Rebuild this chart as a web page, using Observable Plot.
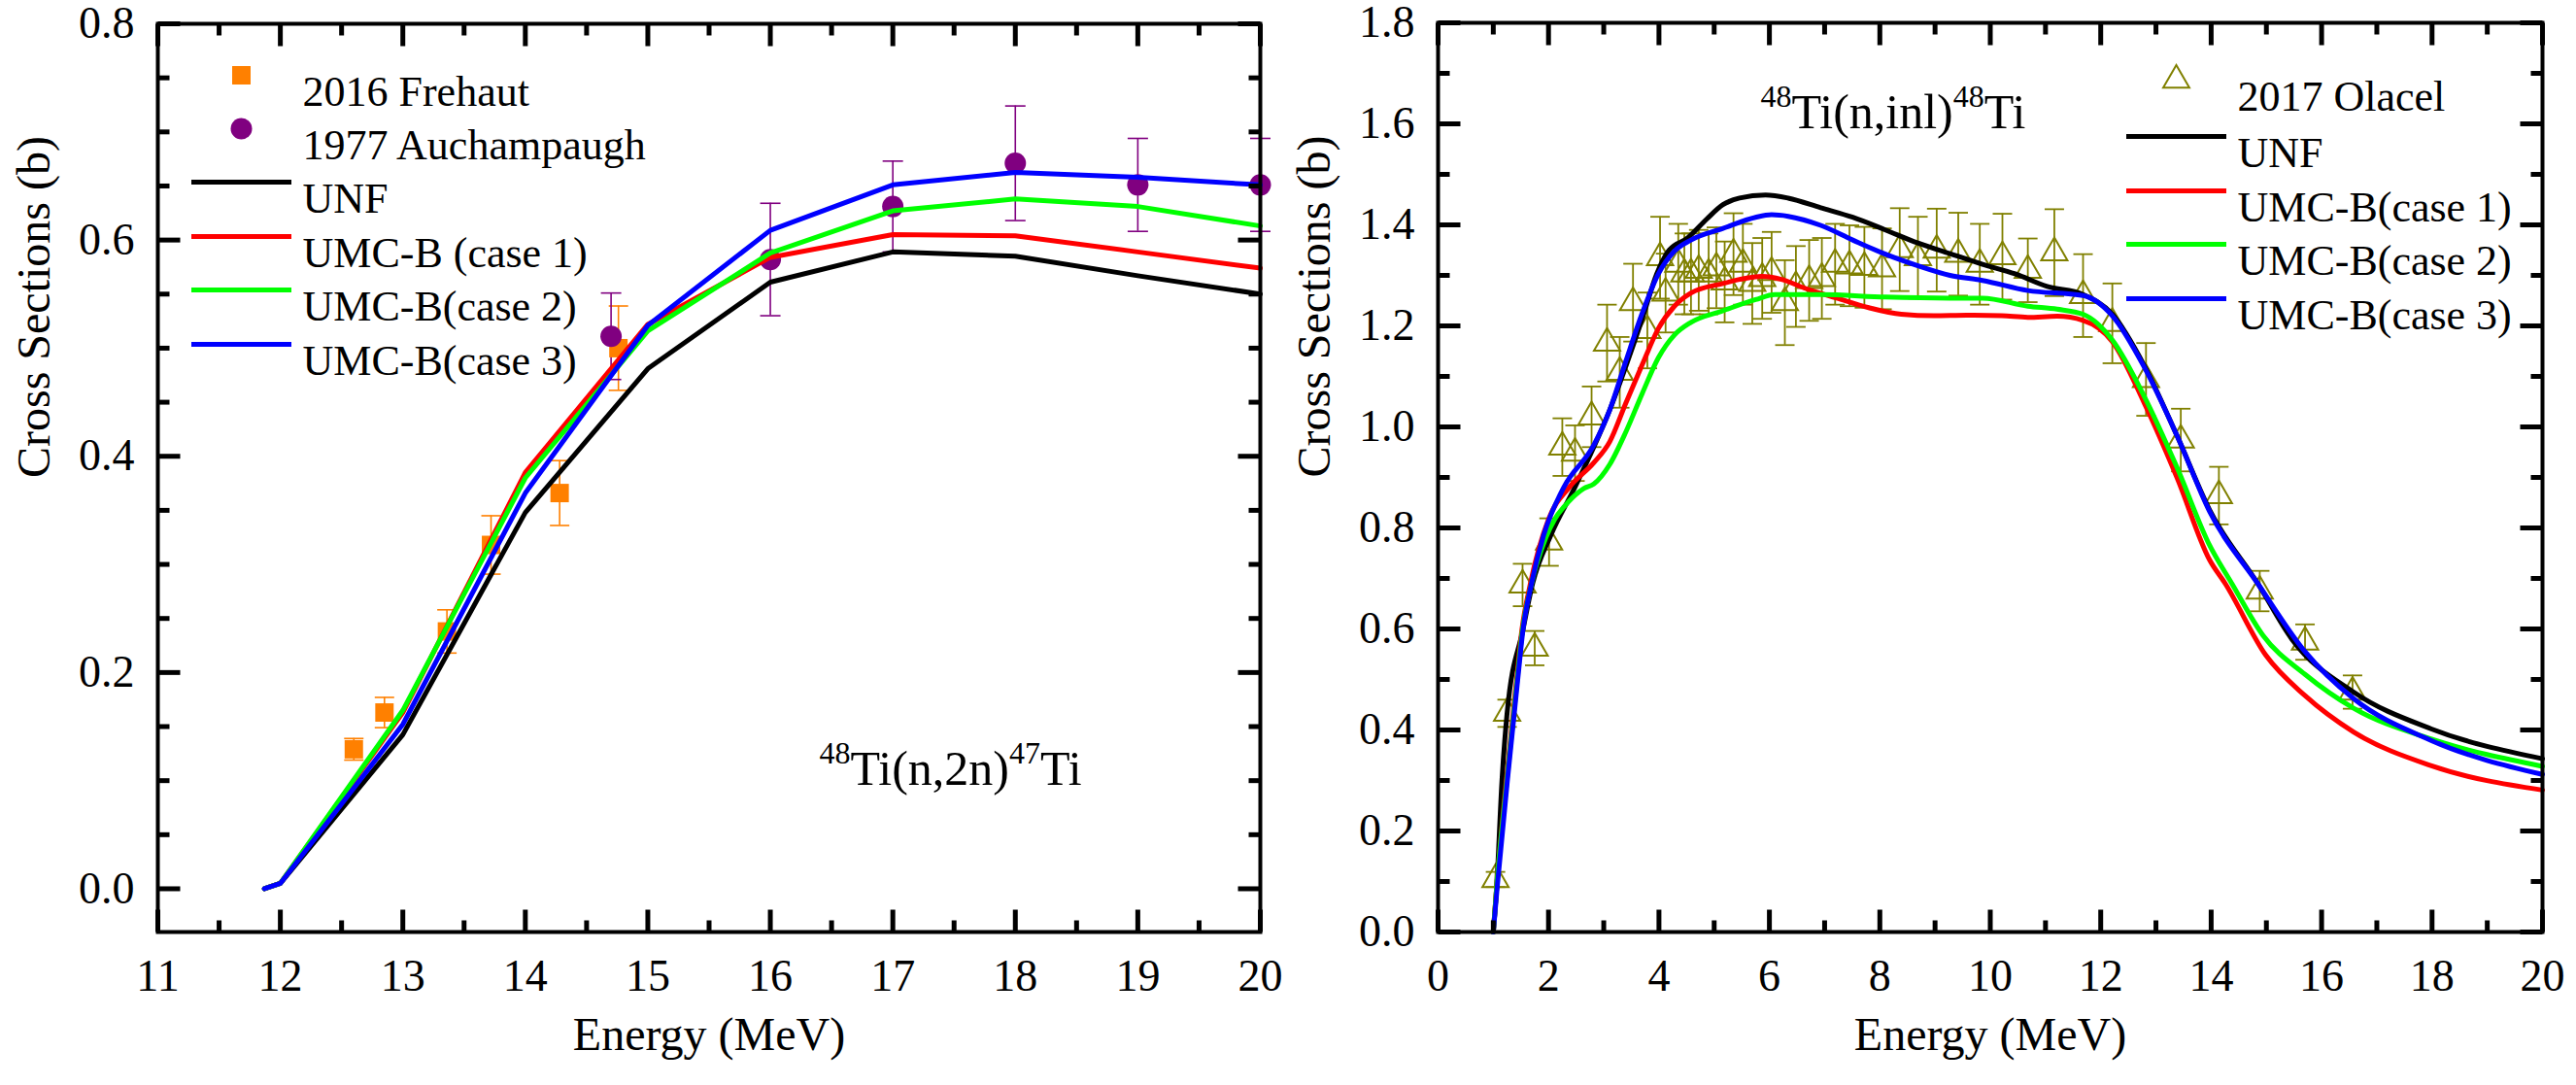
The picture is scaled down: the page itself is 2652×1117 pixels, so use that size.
<!DOCTYPE html>
<html>
<head>
<meta charset="utf-8">
<script src="https://cdn.jsdelivr.net/npm/d3@7"></script>
<script src="https://cdn.jsdelivr.net/npm/@observablehq/plot@0.6"></script>
<style>
html, body { margin: 0; padding: 0; background: #fff; }
#wrap { position: relative; width: 2652px; height: 1117px; overflow: hidden; background: #fff; }
#left { position: absolute; left: 0; top: 0; }
#right { position: absolute; left: 1330px; top: 0; }
</style>
</head>
<body>
<div id="wrap"><div id="left"></div><div id="right"></div></div>
<script>
// ---------- Left panel: 48Ti(n,2n)47Ti ----------
const n2nEnergy = [11.87, 12, 13, 14, 15, 16, 17, 18, 19, 20];
const n2nUNF    = [0, 0.005, 0.1425, 0.348, 0.481, 0.561, 0.589, 0.585, 0.567, 0.550];
const n2nCase1  = [0, 0.005, 0.163, 0.385, 0.522, 0.584, 0.605, 0.604, 0.589, 0.574];
const n2nCase2  = [0, 0.005, 0.165, 0.380, 0.516, 0.588, 0.627, 0.638, 0.631, 0.613];
const n2nCase3  = [0, 0.005, 0.152, 0.366, 0.521, 0.609, 0.651, 0.6625, 0.658, 0.651];

const frehautE   = [12.6, 12.85, 13.36, 13.72, 14.28, 14.76];
const frehautV   = [0.129, 0.163, 0.238, 0.318, 0.366, 0.500];
const frehautErr = [0.010, 0.014, 0.020, 0.027, 0.030, 0.039];

const auchE   = [14.7, 16, 17, 18, 19, 20];
const auchV   = [0.511, 0.582, 0.631, 0.671, 0.651, 0.651];
const auchErr = [0.040, 0.052, 0.042, 0.053, 0.043, 0.043];

const leftXMajor = [11, 12, 13, 14, 15, 16, 17, 18, 19, 20];
const leftXMinor = [11.5, 12.5, 13.5, 14.5, 15.5, 16.5, 17.5, 18.5, 19.5];
const leftYMajor = [0, 0.2, 0.4, 0.6, 0.8];
const leftYMinor = [0.05, 0.1, 0.15, 0.25, 0.3, 0.35, 0.45, 0.5, 0.55, 0.65, 0.7, 0.75];

// ---------- Right panel: 48Ti(n,inl)48Ti ----------
const inlUNF_E = [1.00, 1.06, 1.16, 1.25, 1.54, 1.71, 2.04, 2.48, 2.82, 3.11, 3.40, 3.70, 3.96, 4.17, 4.52, 4.87, 5.16, 5.46, 5.93, 6.34, 6.93, 7.51, 8.10, 8.69, 9.27, 9.86, 10.45, 11.03, 11.68, 12.21, 12.79, 13.38, 13.97, 14.85, 15.46, 16.58, 17.99, 20.0];
const inlUNF_V = [0, 0.088, 0.305, 0.433, 0.600, 0.689, 0.785, 0.881, 0.960, 1.034, 1.120, 1.215, 1.303, 1.348, 1.374, 1.412, 1.440, 1.453, 1.459, 1.453, 1.434, 1.415, 1.390, 1.364, 1.343, 1.322, 1.303, 1.278, 1.262, 1.223, 1.121, 0.983, 0.836, 0.689, 0.580, 0.475, 0.402, 0.343];

const inlCase1_E = [1.00, 1.06, 1.24, 1.42, 1.52, 1.67, 2.00, 2.38, 2.82, 3.11, 3.40, 3.70, 3.99, 4.28, 4.58, 5.16, 5.46, 5.87, 6.22, 6.63, 7.22, 7.80, 8.39, 8.98, 9.57, 10.21, 10.68, 11.21, 11.68, 12.21, 12.79, 13.38, 13.97, 14.26, 14.99, 15.70, 16.58, 17.99, 20.0];
const inlCase1_V = [0, 0.088, 0.305, 0.497, 0.600, 0.689, 0.817, 0.881, 0.929, 0.971, 1.047, 1.124, 1.195, 1.239, 1.265, 1.284, 1.292, 1.298, 1.292, 1.275, 1.255, 1.236, 1.223, 1.220, 1.221, 1.220, 1.217, 1.219, 1.211, 1.169, 1.047, 0.900, 0.737, 0.689, 0.548, 0.468, 0.396, 0.329, 0.281];

const inlCase2_E = [1.00, 1.06, 1.25, 1.43, 1.53, 1.69, 1.95, 2.11, 2.29, 2.64, 2.82, 3.11, 3.40, 3.70, 3.99, 4.28, 4.58, 5.16, 5.75, 6.10, 6.93, 8.10, 9.27, 9.86, 10.68, 11.21, 11.68, 12.21, 12.79, 13.38, 13.97, 14.38, 14.94, 15.70, 16.58, 17.99, 20.0];
const inlCase2_V = [0, 0.088, 0.305, 0.497, 0.600, 0.689, 0.780, 0.817, 0.843, 0.878, 0.887, 0.926, 0.990, 1.067, 1.137, 1.182, 1.207, 1.230, 1.252, 1.262, 1.262, 1.257, 1.255, 1.255, 1.239, 1.233, 1.223, 1.172, 1.060, 0.920, 0.766, 0.689, 0.587, 0.510, 0.443, 0.382, 0.328];

const inlCase3_E = [1.00, 1.07, 1.26, 1.44, 1.54, 1.69, 1.91, 2.28, 2.82, 3.11, 3.40, 3.70, 3.99, 4.28, 4.58, 5.16, 5.75, 6.04, 6.34, 6.93, 7.51, 8.10, 8.69, 9.27, 9.86, 10.68, 11.68, 12.21, 12.79, 13.38, 13.97, 14.85, 15.70, 16.58, 17.99, 20.0];
const inlCase3_V = [0, 0.088, 0.305, 0.497, 0.600, 0.689, 0.785, 0.881, 0.964, 1.034, 1.130, 1.226, 1.303, 1.348, 1.370, 1.393, 1.415, 1.420, 1.417, 1.399, 1.370, 1.342, 1.319, 1.300, 1.290, 1.270, 1.260, 1.220, 1.118, 0.983, 0.833, 0.689, 0.555, 0.462, 0.379, 0.312];

const olacelE = [1.04, 1.25, 1.53, 1.75, 2.01, 2.25, 2.48, 2.78, 3.06, 3.29, 3.53, 3.79, 4.02, 4.12, 4.35, 4.46, 4.58, 4.72, 4.90, 5.04, 5.19, 5.35, 5.52, 5.69, 5.87, 6.04, 6.28, 6.48, 6.72, 6.95, 7.19, 7.45, 7.72, 8.04, 8.36, 8.69, 9.03, 9.42, 9.81, 10.22, 10.68, 11.16, 11.68, 12.21, 12.82, 13.45, 14.14, 14.88, 15.70, 16.56];
const olacelV = [0.104, 0.433, 0.687, 0.562, 0.772, 0.960, 0.948, 1.020, 1.166, 1.108, 1.246, 1.191, 1.335, 1.265, 1.322, 1.303, 1.303, 1.310, 1.303, 1.315, 1.287, 1.342, 1.322, 1.284, 1.294, 1.306, 1.246, 1.278, 1.290, 1.294, 1.322, 1.319, 1.316, 1.313, 1.351, 1.335, 1.350, 1.342, 1.322, 1.337, 1.310, 1.345, 1.260, 1.205, 1.094, 0.974, 0.864, 0.675, 0.574, 0.475];
const olacelErr = [0.015, 0.027, 0.042, 0.034, 0.047, 0.057, 0.055, 0.060, 0.076, 0.070, 0.077, 0.075, 0.081, 0.078, 0.080, 0.080, 0.080, 0.080, 0.080, 0.080, 0.080, 0.081, 0.080, 0.080, 0.080, 0.080, 0.084, 0.080, 0.080, 0.080, 0.080, 0.080, 0.080, 0.080, 0.082, 0.081, 0.082, 0.082, 0.080, 0.085, 0.063, 0.086, 0.082, 0.079, 0.072, 0.062, 0.057, 0.040, 0.035, 0.033];

const rightXMajor = [0, 2, 4, 6, 8, 10, 12, 14, 16, 18, 20];
const rightXMinor = [1, 3, 5, 7, 9, 11, 13, 15, 17, 19];
const rightYMajor = [0, 0.2, 0.4, 0.6, 0.8, 1.0, 1.2, 1.4, 1.6, 1.8];
const rightYMinor = [0.1, 0.3, 0.5, 0.7, 0.9, 1.1, 1.3, 1.5, 1.7];

// ---------- Text ----------
const xTitle = "Energy (MeV)";
const yTitle = "Cross Sections (b)";
const leftLegend  = ["2016 Frehaut", "1977 Auchampaugh", "UNF", "UMC-B (case 1)", "UMC-B(case 2)", "UMC-B(case 3)"];
const rightLegend = ["2017 Olacel", "UNF", "UMC-B(case 1)", "UMC-B(case 2)", "UMC-B(case 3)"];
const leftAnnoParts  = [["48", true], ["Ti(n,2n)", false], ["47", true], ["Ti", false]];
const rightAnnoParts = [["48", true], ["Ti(n,inl)", false], ["48", true], ["Ti", false]];

// ---------- Styles ----------
const FONT = "'Liberation Serif', 'Times New Roman', Times, serif";
const C_UNF = "#000000", C_C1 = "#ff0000", C_C2 = "#00ff00", C_C3 = "#0000ff";
const C_FREH = "#ff8000", C_AUCH = "#800080", C_OLA = "#808000";
const LW = 5;

const rows = (E, V, ERR) => E.map((e, i) => ({e, v: V[i], err: ERR ? ERR[i] : 0}));
const hLine = (len) => ({draw(ctx) { ctx.moveTo(-len / 2, 0); ctx.lineTo(len / 2, 0); }});
const vStub = (len, dir) => ({draw(ctx) { ctx.moveTo(0, 0); ctx.lineTo(0, dir * len); }});
const hStub = (len, dir) => ({draw(ctx) { ctx.moveTo(0, 0); ctx.lineTo(dir * len, 0); }});

// frame, tick labels, inward tick stubs on all four sides, titles
function frameAxes(xDom, yDom, xMajor, xMinor, yMajor, yMinor, xFmt, yFmt) {
  const s = {stroke: "#000000", strokeWidth: 5, fill: "none", r: 1};
  const xTicks = (vals, len) => [
    Plot.dot(vals, {x: d => d, y: () => yDom[0], symbol: vStub(len, -1), ...s}),
    Plot.dot(vals, {x: d => d, y: () => yDom[1], symbol: vStub(len, 1), ...s})
  ];
  const yTicks = (vals, len) => [
    Plot.dot(vals, {y: d => d, x: () => xDom[0], symbol: hStub(len, 1), ...s}),
    Plot.dot(vals, {y: d => d, x: () => xDom[1], symbol: hStub(len, -1), ...s})
  ];
  return [
    Plot.frame({stroke: "black", strokeWidth: 4}),
    ...xTicks(xMajor, 23), ...xTicks(xMinor, 12),
    ...yTicks(yMajor, 23), ...yTicks(yMinor, 12),
    Plot.axisX(xMajor, {anchor: "bottom", tickSize: 0, tickPadding: 28, fontSize: 46, tickFormat: xFmt, label: null, fill: "black"}),
    Plot.axisY(yMajor, {anchor: "left", tickSize: 0, tickPadding: 24, fontSize: 46, tickFormat: yFmt, label: null, fill: "black"}),
    Plot.text([xTitle], {frameAnchor: "bottom", dy: 121, fontSize: 48, fill: "black"}),
    Plot.text([yTitle], {frameAnchor: "left", dx: -127, rotate: -90, fontSize: 48, fill: "black"})
  ];
}

function legendEntry(symbolSpec, label, dxSym, dxText, dy) {
  return [
    Plot.dot([0], {frameAnchor: "top-left", dx: dxSym, dy, ...symbolSpec}),
    Plot.text([label], {frameAnchor: "top-left", dx: dxText, dy, textAnchor: "start", fontSize: 44, fill: "black"})
  ];
}

function errorMarks(data, color, capLen, width) {
  return [
    Plot.ruleX(data, {x: "e", y1: d => d.v - d.err, y2: d => d.v + d.err, stroke: color, strokeWidth: width}),
    Plot.dot(data, {x: "e", y: d => d.v - d.err, symbol: hLine(capLen), r: 1, stroke: color, strokeWidth: width, fill: "none"}),
    Plot.dot(data, {x: "e", y: d => d.v + d.err, symbol: hLine(capLen), r: 1, stroke: color, strokeWidth: width, fill: "none"})
  ];
}

function supText(svg, parts, supSize, shift) {
  const plain = parts.map(p => p[0]).join("");
  svg.querySelectorAll("text").forEach(t => {
    if (t.textContent !== plain || t.children.length) return;
    t.textContent = "";
    let raised = false;
    for (const [s, sup] of parts) {
      const ts = document.createElementNS("http://www.w3.org/2000/svg", "tspan");
      ts.textContent = s;
      if (sup && !raised) { ts.setAttribute("dy", -shift); raised = true; }
      else if (!sup && raised) { ts.setAttribute("dy", shift); raised = false; }
      if (sup) ts.setAttribute("font-size", supSize);
      t.appendChild(ts);
    }
  });
}

const fmt1 = d3.format(".1f");
const fmtInt = d3.format("d");

// ---------- Left plot ----------
const L = {width: 1330, height: 1117, ml: 162, mr: 33, mt: 24, mb: 158, xDom: [11, 20], yDom: [-0.04, 0.8]};
const freh = rows(frehautE, frehautV, frehautErr);
const auch = rows(auchE, auchV, auchErr);
const lineL = (V, color) => Plot.line(rows(n2nEnergy, V), {x: "e", y: "v", stroke: color, strokeWidth: LW, strokeLinejoin: "round"});

const leftPlot = Plot.plot({
  width: L.width, height: L.height,
  marginLeft: L.ml, marginRight: L.mr, marginTop: L.mt, marginBottom: L.mb,
  x: {domain: L.xDom},
  y: {domain: L.yDom},
  style: {fontFamily: FONT, background: "white", color: "black", overflow: "visible"},
  marks: [
    ...errorMarks(freh, C_FREH, 20, 1.6),
    ...errorMarks(auch, C_AUCH, 21, 1.6),
    Plot.dot(freh, {x: "e", y: "v", symbol: "square", r: 10.7, fill: C_FREH}),
    Plot.dot(auch, {x: "e", y: "v", symbol: "circle", r: 11, fill: C_AUCH}),
    lineL(n2nUNF, C_UNF),
    lineL(n2nCase1, C_C1),
    lineL(n2nCase2, C_C2),
    lineL(n2nCase3, C_C3),
    ...frameAxes(L.xDom, L.yDom, leftXMajor, leftXMinor, leftYMajor, leftYMinor, fmtInt, fmt1),
    ...legendEntry({symbol: "square", r: 10.7, fill: C_FREH}, leftLegend[0], 86, 149, 53),
    ...legendEntry({symbol: "circle", r: 11, fill: C_AUCH}, leftLegend[1], 86, 149, 108),
    ...legendEntry({symbol: hLine(103), r: 1, stroke: C_UNF, strokeWidth: LW, fill: "none"}, leftLegend[2], 86, 149, 163),
    ...legendEntry({symbol: hLine(103), r: 1, stroke: C_C1, strokeWidth: LW, fill: "none"}, leftLegend[3], 86, 149, 219),
    ...legendEntry({symbol: hLine(103), r: 1, stroke: C_C2, strokeWidth: LW, fill: "none"}, leftLegend[4], 86, 149, 274),
    ...legendEntry({symbol: hLine(103), r: 1, stroke: C_C3, strokeWidth: LW, fill: "none"}, leftLegend[5], 86, 149, 330),
    Plot.text([leftAnnoParts.map(p => p[0]).join("")], {frameAnchor: "top-left", dx: 681, dy: 748, fontSize: 50, fill: "black"})
  ]
});
supText(leftPlot, leftAnnoParts, 32, 22);
document.getElementById("left").appendChild(leftPlot);

// ---------- Right plot ----------
const R = {width: 1322, height: 1117, ml: 150, mr: 35, mt: 23, mb: 158, xDom: [0, 20], yDom: [0, 1.8]};
const ola = rows(olacelE, olacelV, olacelErr);
const lineR = (E, V, color) => Plot.line(rows(E, V), {x: "e", y: "v", stroke: color, strokeWidth: LW, curve: "monotone-x", strokeLinejoin: "round"});

const rightPlot = Plot.plot({
  width: R.width, height: R.height,
  marginLeft: R.ml, marginRight: R.mr, marginTop: R.mt, marginBottom: R.mb,
  x: {domain: R.xDom},
  y: {domain: R.yDom},
  style: {fontFamily: FONT, background: "white", color: "black", overflow: "visible"},
  marks: [
    ...errorMarks(ola, C_OLA, 20, 1.8),
    Plot.dot(ola, {x: "e", y: "v", symbol: "triangle", r: 10, stroke: C_OLA, strokeWidth: 2, fill: "none"}),
    lineR(inlUNF_E, inlUNF_V, C_UNF),
    lineR(inlCase1_E, inlCase1_V, C_C1),
    lineR(inlCase2_E, inlCase2_V, C_C2),
    lineR(inlCase3_E, inlCase3_V, C_C3),
    ...frameAxes(R.xDom, R.yDom, rightXMajor, rightXMinor, rightYMajor, rightYMinor, fmtInt, fmt1),
    ...legendEntry({symbol: "triangle", r: 10, stroke: C_OLA, strokeWidth: 2, fill: "none"}, rightLegend[0], 760, 823, 59),
    ...legendEntry({symbol: hLine(103), r: 1, stroke: C_UNF, strokeWidth: LW, fill: "none"}, rightLegend[1], 760, 823, 117),
    ...legendEntry({symbol: hLine(103), r: 1, stroke: C_C1, strokeWidth: LW, fill: "none"}, rightLegend[2], 760, 823, 173),
    ...legendEntry({symbol: hLine(103), r: 1, stroke: C_C2, strokeWidth: LW, fill: "none"}, rightLegend[3], 760, 823, 228),
    ...legendEntry({symbol: hLine(103), r: 1, stroke: C_C3, strokeWidth: LW, fill: "none"}, rightLegend[4], 760, 823, 284),
    Plot.text([rightAnnoParts.map(p => p[0]).join("")], {frameAnchor: "top-left", dx: 332, dy: 73, fontSize: 50, fill: "black"})
  ]
});
supText(rightPlot, rightAnnoParts, 32, 22);
document.getElementById("right").appendChild(rightPlot);
</script>
</body>
</html>
